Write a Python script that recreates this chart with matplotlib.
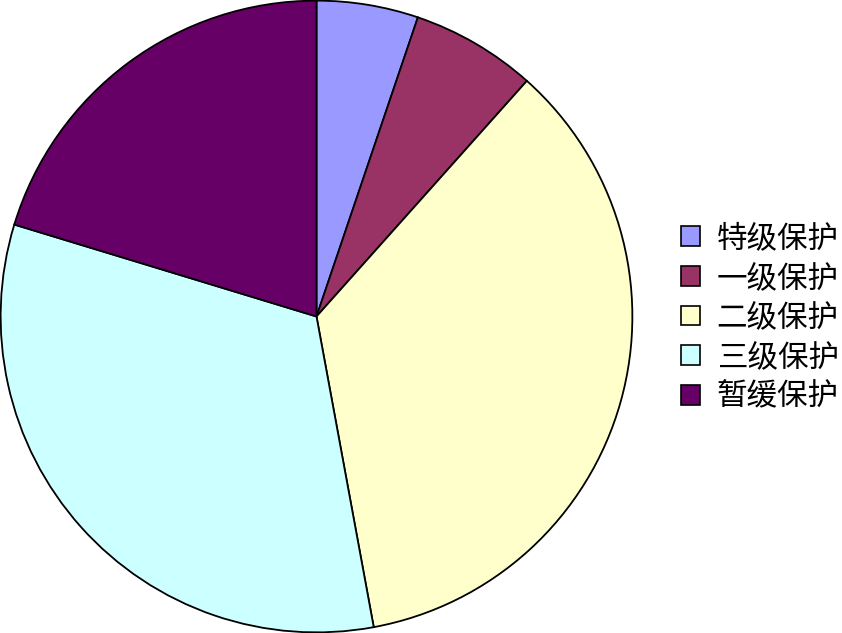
import matplotlib
matplotlib.use("Agg")
import matplotlib.pyplot as plt
import matplotlib.patches as mpatches

plt.rcParams['font.family'] = ['Noto Sans CJK SC', 'DejaVu Sans']

# data
labels = ['特级保护', '一级保护', '二级保护', '三级保护', '暂缓保护']
shares = [5.2, 6.4, 35.5, 32.6, 20.3]
colors = ['#9999FF', '#993366', '#FFFFCC', '#CCFFFF', '#660066']

fig = plt.figure(figsize=(8.42, 6.33), dpi=100)
fig.patch.set_facecolor('white')
ax = fig.add_axes([0.0, 0.0, 633 / 842, 1.0])

ax.pie(shares, colors=colors, startangle=90, counterclock=False,
       radius=1.0, wedgeprops=dict(edgecolor='black', linewidth=1.3))
ax.set_xlim(-1.002, 1.002)
ax.set_ylim(-1.002, 1.002)
ax.set_aspect('equal')
ax.axis('off')

handles = [mpatches.Patch(facecolor=c, edgecolor='black', linewidth=1.2, label=l)
           for c, l in zip(colors, labels)]
fig.legend(handles=handles, loc='center left', bbox_to_anchor=(681 / 842, 0.498),
           frameon=False, fontsize=22, handlelength=0.62, handleheight=0.62,
           handletextpad=0.55, labelspacing=0.28, borderpad=0, borderaxespad=0)

fig.savefig('out.png', dpi=100, facecolor='white')
